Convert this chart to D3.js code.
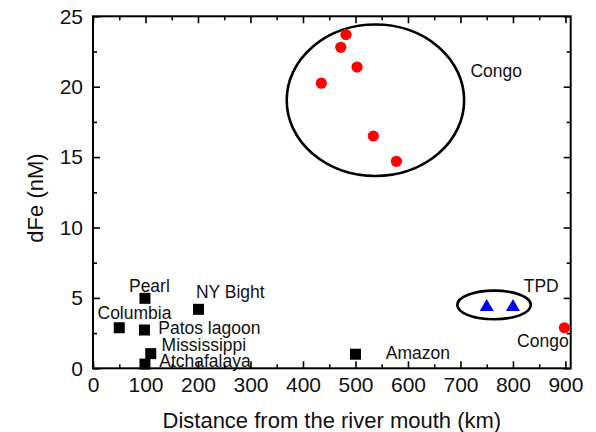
<!DOCTYPE html>
<html>
<head>
<meta charset="utf-8">
<script src="https://cdn.jsdelivr.net/npm/d3@7"></script>
<style>
  body { margin: 0; background: #fff; }
  text { font-family: "Liberation Sans", Arial, sans-serif; fill: #111; }
</style>
</head>
<body>
<div id="chart"></div>
<script>
// data: river plumes (squares), Congo (circles), TPD (triangles)
const riverNames = ["Pearl", "NY Bight", "Columbia", "Patos lagoon", "Mississippi", "Atchafalaya", "Amazon"];
const riverDist  = [99, 201, 50, 98, 110, 99, 500];
const riverFe    = [4.97, 4.19, 2.88, 2.72, 1.04, 0.3, 1.0];

const congoDist = [482, 472, 503, 435, 534, 578, 898];
const congoFe   = [23.7, 22.8, 21.4, 20.25, 16.5, 14.7, 2.88];

const tpdDist = [750, 800];
const tpdFe   = [4.42, 4.42];

// ellipses in data units: [cx, cy, rx, ry]
const congoEllipse = [538, 19.04, 169, 5.38];
const tpdEllipse   = [764, 4.5, 70, 1.02];

// annotation labels: text, x (km), y (nM) of text start / baseline
const labelText = ["Pearl", "NY Bight", "Columbia", "Patos lagoon", "Mississippi", "Atchafalaya", "Amazon", "Congo", "TPD", "Congo"];
const labelX    = [68.5, 196, 8.6, 124.3, 130.7, 126.2, 557.8, 807.8, 820.5, 719];
const labelY    = [5.42, 4.99, 3.52, 2.44, 1.23, 0.11, 0.64, 1.49, 5.40, 20.71];

const xMajor = [0, 100, 200, 300, 400, 500, 600, 700, 800, 900];
const xMinor = [50, 150, 250, 350, 450, 550, 650, 750, 850];
const yMajor = [0, 5, 10, 15, 20, 25];
const yMinor = [2.5, 7.5, 12.5, 17.5, 22.5];

// sizes
const W = 596, H = 432;
const margin = {top: 16.3, right: 25.3, bottom: 63.7, left: 93};
const width = W - margin.left - margin.right;
const height = H - margin.top - margin.bottom;

const svg = d3.select("#chart")
  .append("svg")
  .attr("width", W)
  .attr("height", H)
  .append("g")
  .attr("transform", `translate(${margin.left},${margin.top})`);

const x = d3.scaleLinear().domain([0, 910]).range([0, width]);
const y = d3.scaleLinear().domain([0, 25]).range([height, 0]);

// axes (ticks pointing inward)
function addAxis(axis, tr, minor) {
  const g = svg.append("g").attr("transform", tr).call(axis);
  g.select(".domain").remove();
  g.selectAll(".tick line").attr("stroke", "#000").attr("stroke-width", 1.6);
  g.selectAll(".tick text").attr("font-size", 21).style("fill", "#111")
    .attr("font-family", '"Liberation Sans", Arial, sans-serif');
  return g;
}
addAxis(d3.axisBottom(x).tickValues(xMajor).tickSize(-7).tickPadding(9), `translate(0,${height})`);
addAxis(d3.axisBottom(x).tickValues(xMinor).tickSize(-4).tickFormat(""), `translate(0,${height})`);
addAxis(d3.axisTop(x).tickValues(xMajor).tickSize(-7).tickFormat(""), "translate(0,0)");
addAxis(d3.axisTop(x).tickValues(xMinor).tickSize(-4).tickFormat(""), "translate(0,0)");
addAxis(d3.axisLeft(y).tickValues(yMajor).tickSize(-7).tickPadding(10), "translate(0,0)");
addAxis(d3.axisLeft(y).tickValues(yMinor).tickSize(-4).tickFormat(""), "translate(0,0)");
addAxis(d3.axisRight(y).tickValues(yMajor).tickSize(-7).tickFormat(""), `translate(${width},0)`);
addAxis(d3.axisRight(y).tickValues(yMinor).tickSize(-4).tickFormat(""), `translate(${width},0)`);

// frame
svg.append("rect")
  .attr("x", 0).attr("y", 0)
  .attr("width", width).attr("height", height)
  .attr("fill", "none")
  .attr("stroke", "#000")
  .attr("stroke-width", 2);

// ellipses
[congoEllipse, tpdEllipse].forEach(e => {
  svg.append("ellipse")
    .attr("cx", x(e[0]))
    .attr("cy", y(e[1]))
    .attr("rx", x(e[2]) - x(0))
    .attr("ry", y(0) - y(e[3]))
    .attr("fill", "none")
    .attr("stroke", "#000")
    .attr("stroke-width", 2.6);
});

// squares
svg.selectAll(".sq")
  .data(d3.range(riverDist.length))
  .enter()
  .append("rect")
  .attr("class", "sq")
  .attr("x", i => x(riverDist[i]) - 5.5)
  .attr("y", i => y(riverFe[i]) - 5.5)
  .attr("width", 11)
  .attr("height", 11)
  .attr("fill", "#000");

// circles
svg.selectAll(".dot")
  .data(d3.range(congoDist.length))
  .enter()
  .append("circle")
  .attr("class", "dot")
  .attr("cx", i => x(congoDist[i]))
  .attr("cy", i => y(congoFe[i]))
  .attr("r", 5.6)
  .attr("fill", "#ff0000");

// triangles
const tri = d3.symbol().type(d3.symbolTriangle).size(85);
svg.selectAll(".tri")
  .data(d3.range(tpdDist.length))
  .enter()
  .append("path")
  .attr("class", "tri")
  .attr("d", tri)
  .attr("transform", i => `translate(${x(tpdDist[i])},${y(tpdFe[i]) + 1})`)
  .attr("fill", "#0000ff");

// labels
svg.selectAll(".lbl")
  .data(d3.range(labelText.length))
  .enter()
  .append("text")
  .attr("class", "lbl")
  .attr("x", i => x(labelX[i]))
  .attr("y", i => y(labelY[i]))
  .attr("font-size", 17.5)
  .text(i => labelText[i]);

// axis titles
svg.append("text")
  .attr("x", width / 2)
  .attr("y", height + 60)
  .attr("text-anchor", "middle")
  .attr("font-size", 22)
  .text("Distance from the river mouth (km)");

svg.append("text")
  .attr("transform", `translate(${43 - margin.left},${198 - margin.top}) rotate(-90)`)
  .attr("text-anchor", "middle")
  .attr("font-size", 22)
  .text("dFe (nM)");
</script>
</body>
</html>
